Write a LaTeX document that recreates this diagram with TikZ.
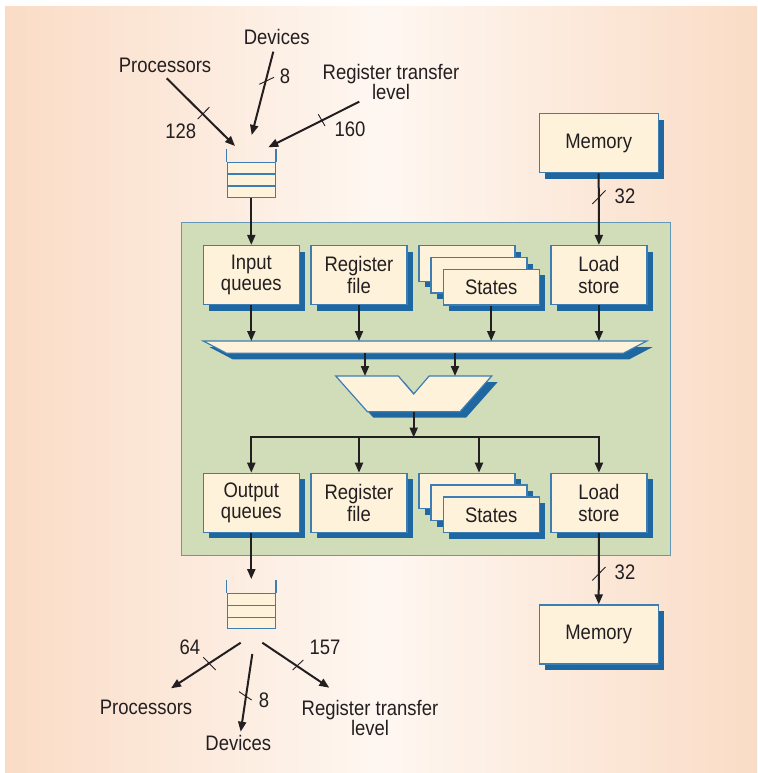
\documentclass[tikz,border=0pt]{standalone}
\usepackage{fontspec}
\setmainfont{Liberation Sans}[FakeStretch=0.88]
\usetikzlibrary{arrows.meta,shadows,calc}

\definecolor{peachedge}{RGB}{250,220,198}
\definecolor{peachmid}{RGB}{254,247,241}
\definecolor{cream}{RGB}{255,242,218}
\definecolor{boxline}{RGB}{60,125,180}
\definecolor{shadowblue}{RGB}{31,103,160}
\definecolor{coregreen}{RGB}{209,221,185}
\definecolor{coreline}{RGB}{100,150,182}
\definecolor{ink}{RGB}{35,31,32}

\begin{document}
\begin{tikzpicture}[x=1pt,y=-1pt,
  every node/.style={text=ink},
  txt/.style={font=\fontsize{21}{21.5}\selectfont, inner sep=0pt, align=center},
  sh/.style={drop shadow={shadow xshift=6pt, shadow yshift=-6pt, opacity=1, fill=shadowblue}},
  unit/.style={txt, draw=boxline, line width=1.2pt, fill=cream, sh,
               minimum width=96pt, minimum height=59pt},
  statebox/.style={unit, minimum height=35.5pt},
  membox/.style={unit, minimum width=119pt},
  queue/.style={draw=boxline, line width=1.2pt, fill=cream, inner sep=0pt,
                minimum width=48pt, minimum height=35pt},
  qline/.style={draw=boxline, line width=1.2pt},
  flow/.style={draw=ink, line width=2pt, -{Triangle[length=10pt,width=8pt]}},
  tick/.style={draw=ink, line width=0.9pt},
  plate/.style={fill=cream, draw=boxline, line width=1.2pt, line join=miter, sh}
]
\useasboundingbox (0,0) rectangle (757,773);

% page background
\fill[left color=peachedge, right color=peachedge, middle color=peachmid]
  (5,7) rectangle (757,773);

% ---------------- processor core ----------------
\node[draw=coreline, line width=1pt, fill=coregreen, inner sep=0pt,
      minimum width=489pt, minimum height=333pt] (core) at (425.5,389) {};

% top row of units
\node[unit] (inq) at (251.3,275) {Input\\queues};
\node[unit] (rfA) at (359,275) {Register\\file};
\node[statebox] (stA1) at (467,263.5) {};
\node[statebox] (stA2) at (479,275.3) {};
\node[statebox] (stA3) at (491.2,287.2) {States};
\node[unit] (ldA) at (598.9,275) {Load\\store};

% bottom row of units
\node[unit] (outq) at (251.3,502.8) {Output\\queues};
\node[unit] (rfB) at (359,502.8) {Register\\file};
\node[statebox] (stB1) at (467,491) {};
\node[statebox] (stB2) at (479,502.8) {};
\node[statebox] (stB3) at (491.2,514.8) {States};
\node[unit] (ldB) at (598.9,502.8) {Load\\store};

% operand bus
\path[plate] (203.3,341) coordinate (busTL) -- (646.7,341) coordinate (busTR)
  -- (623.3,353.3) coordinate (busBR) -- (226.7,353.3) coordinate (busBL) -- cycle;

% ALU
\path[plate] (335.7,376) coordinate (aluTL) -- (398.3,376) -- (413.7,394)
  -- (429.1,376) -- (491.7,376) -- (460,411.7) -- (367.4,411.7) -- cycle;
\coordinate (aluInL) at (365,376);
\coordinate (aluInR) at (455,376);
\coordinate (aluOut) at (413.7,411.7);
\coordinate (fan) at (413.7,436.5);

% units into the bus
\draw[flow] (inq.south) -- (inq.south |- busTL);
\draw[flow] (rfA.south) -- (rfA.south |- busTL);
\draw[flow] (stA3.south) -- (stA3.south |- busTL);
\draw[flow] (ldA.south) -- (ldA.south |- busTL);

% bus into the ALU
\draw[flow] (aluInL |- busBL) -- (aluInL);
\draw[flow] (aluInR |- busBL) -- (aluInR);

% ALU result fanned out to the bottom row
\draw[flow] (aluOut) -- ([yshift=-1pt]fan);
\draw[flow] (fan) -| (outq.north);
\draw[flow] (fan) -| (ldB.north);
\draw[flow] (rfB.north |- fan) -- (rfB.north);
\draw[flow] (stB2.north |- fan) -- (stB2.north |- stB1.north);

% ---------------- input queue ----------------
\node[queue] (qin) at (251.3,180) {};
\draw[qline] (qin.north west) -- ++(0,-12.7);
\draw[qline] (qin.north east) -- ++(0,-12.7);
\draw[qline] ($(qin.north west)!1/3!(qin.south west)$) -- ($(qin.north east)!1/3!(qin.south east)$);
\draw[qline] ($(qin.north west)!2/3!(qin.south west)$) -- ($(qin.north east)!2/3!(qin.south east)$);
\draw[flow] (qin.south) -- (inq.north);

% sources feeding the input queue
\node[txt] (srcProc) at (165,65) {Processors};
\node[txt] (srcDev) at (276.7,36.7) {Devices};
\node[txt, font=\fontsize{21}{20}\selectfont] (srcRtl) at (391,81.7) {Register transfer\\level};
\coordinate (pA0) at (166.7,78.3);  \coordinate (pA1) at (235,146);
\coordinate (dA0) at (273.3,51.7);  \coordinate (dA1) at (251.7,135);
\coordinate (rA0) at (359.3,101.7); \coordinate (rA1) at (268.3,147.3);
\draw[flow] (pA0) -- (pA1);
\draw[flow] (dA0) -- (dA1);
\draw[flow] (rA0) -- (rA1);
\draw[tick] (197.7,119) -- (209.3,107.3);
\draw[tick] (259.3,84.3) -- (274,77.3);
\draw[tick] (318.3,114.3) -- (325,126);
\node[txt] (nPA) at (180.7,131.7) {128};
\node[txt] (nDA) at (285,76) {8};
\node[txt] (nRA) at (350,129) {160};

% ---------------- memory ports ----------------
\node[membox] (memA) at (598.7,143.3) {Memory};
\draw[flow] (memA.south) -- (ldA.north);
\draw[tick] (592.3,204) -- (605.5,190.5);
\node[txt] (nMA) at (625,196) {32};

\node[membox] (memB) at (598.7,634.5) {Memory};
\draw[flow] (ldB.south) -- (memB.north);
\draw[tick] (592.3,580.5) -- (605.5,567);
\node[txt] (nMB) at (625,572.3) {32};

% ---------------- output queue ----------------
\node[queue] (qout) at (251.3,611.2) {};
\draw[qline] (qout.north west) -- ++(0,-12.7);
\draw[qline] (qout.north east) -- ++(0,-12.7);
\draw[qline] ($(qout.north west)!1/3!(qout.south west)$) -- ($(qout.north east)!1/3!(qout.south east)$);
\draw[qline] ($(qout.north west)!2/3!(qout.south west)$) -- ($(qout.north east)!2/3!(qout.south east)$);
\draw[flow] (outq.south) -- ([yshift=14pt]qout.north);

% sinks fed by the output queue
\node[txt] (dstProc) at (146,707.3) {Processors};
\node[txt] (dstDev) at (238.3,743.3) {Devices};
\node[txt, font=\fontsize{21}{20}\selectfont] (dstRtl) at (370,718.3) {Register transfer\\level};
\coordinate (pB0) at (240.7,642.7); \coordinate (pB1) at (171,688.3);
\coordinate (dB0) at (252.3,654);   \coordinate (dB1) at (240.7,731.7);
\coordinate (rB0) at (262.3,642.7); \coordinate (rB1) at (329.3,687.7);
\draw[flow] (pB0) -- (pB1);
\draw[flow] (dB0) -- (dB1);
\draw[flow] (rB0) -- (rB1);
\draw[tick] (203.3,657.3) -- (215.7,670);
\draw[tick] (239,691.7) -- (251.7,700);
\draw[tick] (292.7,670) -- (303.3,660);
\node[txt] (nPB) at (190,647.3) {64};
\node[txt] (nDB) at (264,700) {8};
\node[txt] (nRB) at (325,647.3) {157};
\end{tikzpicture}
\end{document}
